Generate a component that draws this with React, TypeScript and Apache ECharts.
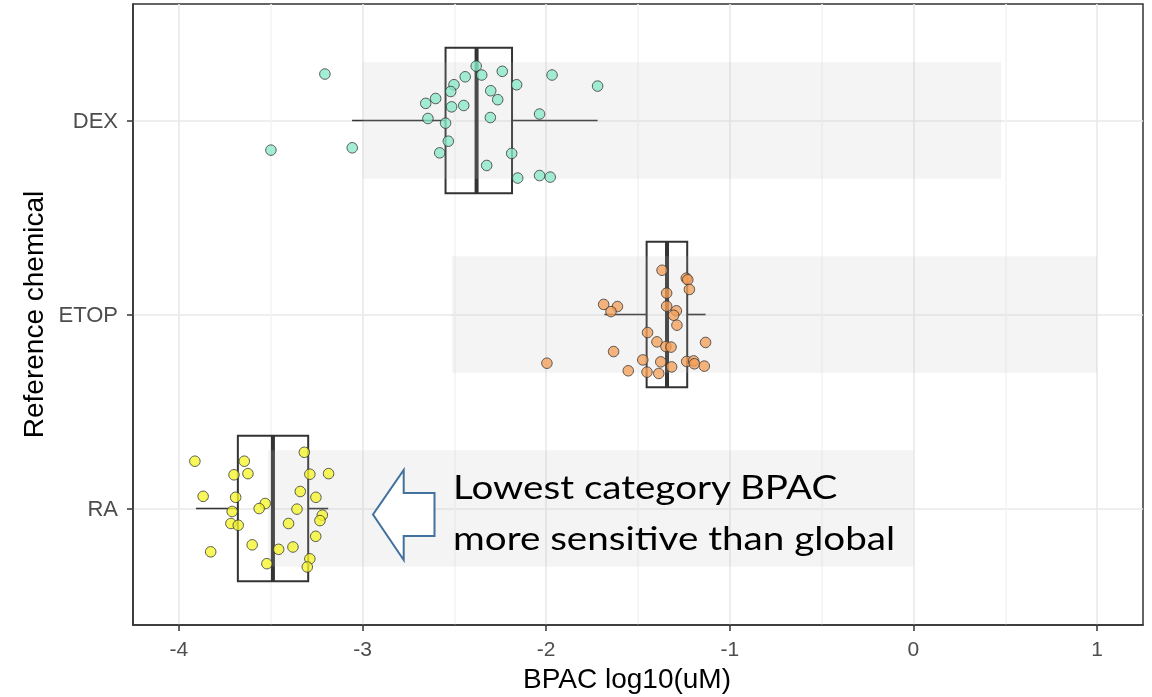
import React, { useEffect, useRef } from "react";
import * as echarts from "echarts";

// Categories (value-axis positions: RA=1, ETOP=2, DEX=3)
const categories = ["RA", "ETOP", "DEX"];
const categoryPos = [1, 2, 3];

// Box statistics per category: [lower whisker, Q1, median, Q3, upper whisker]
const raBox = [-3.907, -3.679, -3.488, -3.296, -3.187];
const etopBox = [-1.683, -1.453, -1.342, -1.232, -1.132];
const dexBox = [-3.057, -2.548, -2.379, -2.186, -1.72];

// Global BPAC bands (start, end) per category
const bandStart = [-3.515, -2.513, -3.0];
const bandEnd = [0.0, 1.0, 0.477];

// Jittered points: [BPAC log10(uM), vertical jitter]
const dexPoints = [
  [-3.205, 0.239], [-3.499, -0.153], [-3.056, -0.141], [-2.381, 0.28], [-2.351, 0.234],
  [-2.239, 0.253], [-2.441, 0.225], [-2.502, 0.184], [-2.52, 0.149], [-2.602, 0.113],
  [-2.656, 0.088], [-2.515, 0.07], [-2.449, 0.077], [-2.302, 0.153], [-2.264, 0.107],
  [-2.161, 0.184], [-1.968, 0.234], [-1.72, 0.177], [-2.644, 0.01], [-2.548, -0.014],
  [-2.304, 0.015], [-2.036, 0.033], [-2.533, -0.107], [-2.58, -0.167], [-2.188, -0.17],
  [-2.324, -0.232], [-2.155, -0.297], [-2.036, -0.284], [-1.978, -0.292],
];
const etopPoints = [
  [-1.369, 0.228], [-1.237, 0.187], [-1.229, 0.179], [-1.22, 0.129], [-1.344, 0.11],
  [-1.687, 0.052], [-1.612, 0.041], [-1.647, 0.015], [-1.344, 0.043], [-1.291, 0.019],
  [-1.306, -0.004], [-1.288, -0.055], [-1.448, -0.093], [-1.397, -0.141], [-1.348, -0.165],
  [-1.32, -0.168], [-1.132, -0.144], [-1.996, -0.251], [-1.633, -0.191], [-1.474, -0.234],
  [-1.376, -0.244], [-1.235, -0.242], [-1.197, -0.239], [-1.193, -0.254], [-1.139, -0.266],
  [-1.317, -0.27], [-1.553, -0.29], [-1.451, -0.297], [-1.387, -0.304],
];
const raPoints = [
  [-3.913, 0.244], [-3.644, 0.244], [-3.317, 0.29], [-3.7, 0.174], [-3.624, 0.18],
  [-3.287, 0.177], [-3.185, 0.18], [-3.868, 0.063], [-3.691, 0.058], [-3.339, 0.088],
  [-3.254, 0.058], [-3.53, 0.026], [-3.563, 0.0], [-3.71, -0.015], [-3.357, -0.003],
  [-3.219, -0.034], [-3.232, -0.062], [-3.717, -0.077], [-3.677, -0.086], [-3.403, -0.077],
  [-3.255, -0.143], [-3.827, -0.223], [-3.601, -0.187], [-3.457, -0.21], [-3.379, -0.198],
  [-3.521, -0.284], [-3.287, -0.259], [-3.301, -0.301],
];

const xTickValues = [-4, -3, -2, -1, 0, 1];

const FONT = "'Liberation Sans', Arial, sans-serif";
const NOTE_FONT = "33px Lato, 'Noto Sans', sans-serif";

export default function App() {
  const ref = useRef<HTMLDivElement>(null);

  useEffect(() => {
    if (!ref.current) return;
    const chart = echarts.init(ref.current, undefined, { renderer: "svg" });

    const boxes = [raBox, etopBox, dexBox];
    const boxData = categoryPos.map((p, i) => [p, ...boxes[i]]);
    const bandData = categoryPos.map((p, i) => [p, bandStart[i], bandEnd[i]]);
    const toXY = (pts: number[][], pos: number) => pts.map((d) => [d[0], pos + d[1]]);

    const transparent = "rgba(0,0,0,0)";
    const major = "#e9e9e9";
    const minor = "#f4f4f4";

    const pointSeries = (name: string, pts: number[][], pos: number, color: string) => ({
      type: "scatter",
      name,
      data: toXY(pts, pos),
      symbol: "circle",
      symbolSize: 10.5,
      z: 4,
      itemStyle: { color, borderColor: "#333", borderWidth: 1 },
    });

    chart.setOption({
      animation: false,
      grid: {
        left: 133,
        right: 9,
        top: 4,
        bottom: 72,
        show: true,
        borderColor: "#333",
        borderWidth: 1.5,
        backgroundColor: "transparent",
        containLabel: false,
        outerBoundsMode: "none",
      },
      xAxis: [
        {
          type: "value",
          min: -4.25,
          max: 1.25,
          interval: 0.25,
          name: "BPAC log10(uM)",
          nameLocation: "middle",
          nameGap: 39,
          nameTextStyle: {
            fontSize: 28,
            color: "#000",
            fontFamily: FONT,
            padding: [0, 22, 0, 0],
          },
          axisLine: { show: true, onZero: false, lineStyle: { color: "#333", width: 1.5 } },
          axisTick: { show: false },
          axisLabel: {
            margin: 13,
            fontSize: 21,
            color: "#4d4d4d",
            fontFamily: FONT,
            formatter: (v: number) =>
              Math.abs(v - Math.round(v)) < 1e-6 ? String(Math.round(v)) : "",
          },
          splitLine: {
            show: true,
            lineStyle: { color: [transparent, major, transparent, minor], width: 1.6 },
          },
        },
        {
          type: "value",
          min: -4.25,
          max: 1.25,
          position: "bottom",
          axisLine: { show: false, onZero: false },
          axisLabel: { show: false },
          splitLine: { show: false },
          axisTick: {
            show: true,
            length: 6,
            customValues: xTickValues,
            lineStyle: { color: "#333", width: 1.5 },
          },
        },
      ],
      yAxis: [
        {
          type: "value",
          min: 0.4,
          max: 3.6,
          interval: 0.2,
          name: "Reference chemical",
          nameLocation: "middle",
          nameGap: 84,
          nameTextStyle: { fontSize: 28, color: "#000", fontFamily: FONT },
          axisLine: { show: true, onZero: false, lineStyle: { color: "#333", width: 1.5 } },
          axisTick: { show: false },
          axisLabel: {
            margin: 15,
            fontSize: 22,
            color: "#4d4d4d",
            fontFamily: FONT,
            formatter: (v: number) => {
              const i = categoryPos.findIndex((p) => Math.abs(p - v) < 1e-6);
              return i >= 0 ? categories[i] : "";
            },
          },
          splitLine: {
            show: true,
            lineStyle: { color: [transparent, transparent, transparent, major, transparent], width: 1.6 },
          },
        },
        {
          type: "value",
          min: 0.4,
          max: 3.6,
          position: "left",
          axisLine: { show: false, onZero: false },
          axisLabel: { show: false },
          splitLine: { show: false },
          axisTick: {
            show: true,
            length: 6,
            customValues: categoryPos,
            lineStyle: { color: "#333", width: 1.5 },
          },
        },
      ],
      series: [
        {
          type: "custom",
          name: "box",
          z: 2,
          data: boxData,
          encode: { x: [1, 2, 3, 4, 5], y: 0 },
          renderItem: (params: any, api: any) => {
            const y = api.value(0);
            const pLow = api.coord([api.value(1), y]);
            const pQ1 = api.coord([api.value(2), y]);
            const pMed = api.coord([api.value(3), y]);
            const pQ3 = api.coord([api.value(4), y]);
            const pHigh = api.coord([api.value(5), y]);
            const h = api.size([0, 0.375])[1];
            const stroke = "#333";
            return {
              type: "group",
              children: [
                {
                  type: "line",
                  shape: { x1: pLow[0], y1: pLow[1], x2: pQ1[0], y2: pQ1[1] },
                  style: { stroke, lineWidth: 1.6 },
                },
                {
                  type: "line",
                  shape: { x1: pQ3[0], y1: pQ3[1], x2: pHigh[0], y2: pHigh[1] },
                  style: { stroke, lineWidth: 1.6 },
                },
                {
                  type: "rect",
                  shape: { x: pQ1[0], y: pQ1[1] - h, width: pQ3[0] - pQ1[0], height: 2 * h },
                  style: { fill: "rgba(0,0,0,0)", stroke, lineWidth: 2 },
                },
                {
                  type: "line",
                  shape: { x1: pMed[0], y1: pMed[1] - h, x2: pMed[0], y2: pMed[1] + h },
                  style: { stroke, lineWidth: 4 },
                },
              ],
            };
          },
        },
        {
          type: "custom",
          name: "band",
          z: 3,
          data: bandData,
          encode: { x: [1, 2], y: 0 },
          renderItem: (params: any, api: any) => {
            const y = api.value(0);
            const p1 = api.coord([api.value(1), y + 0.3]);
            const p2 = api.coord([api.value(2), y - 0.3]);
            return {
              type: "rect",
              shape: { x: p1[0], y: p1[1], width: p2[0] - p1[0], height: p2[1] - p1[1] },
              style: { fill: "rgba(190,190,190,0.17)" },
            };
          },
        },
        pointSeries("RA", raPoints, 1, "rgba(246,246,40,0.95)"),
        pointSeries("ETOP", etopPoints, 2, "rgba(244,158,88,0.95)"),
        pointSeries("DEX", dexPoints, 3, "rgba(134,233,199,0.95)"),
      ],
      graphic: [
        {
          type: "polygon",
          z: 100,
          shape: {
            points: [
              [373, 514.5],
              [403.7, 470],
              [403.7, 493],
              [434.5, 493],
              [434.5, 536],
              [403.7, 536],
              [403.7, 560],
            ],
          },
          style: { fill: "#fff", stroke: "#41719C", lineWidth: 2 },
        },
        {
          type: "text",
          z: 100,
          x: 453,
          y: 470,
          scaleX: 1.17,
          style: {
            text: "Lowest category BPAC",
            font: NOTE_FONT,
            fill: "#000",
            textVerticalAlign: "top",
          },
        },
        {
          type: "text",
          z: 100,
          x: 453,
          y: 521,
          scaleX: 1.17,
          style: {
            text: "more sensitive than global",
            font: NOTE_FONT,
            fill: "#000",
            textVerticalAlign: "top",
          },
        },
      ],
    });

    return () => chart.dispose();
  }, []);

  return (
    <div
      ref={ref}
      style={{ position: "fixed", left: 0, top: 0, width: 1152, height: 697 }}
    />
  );
}
